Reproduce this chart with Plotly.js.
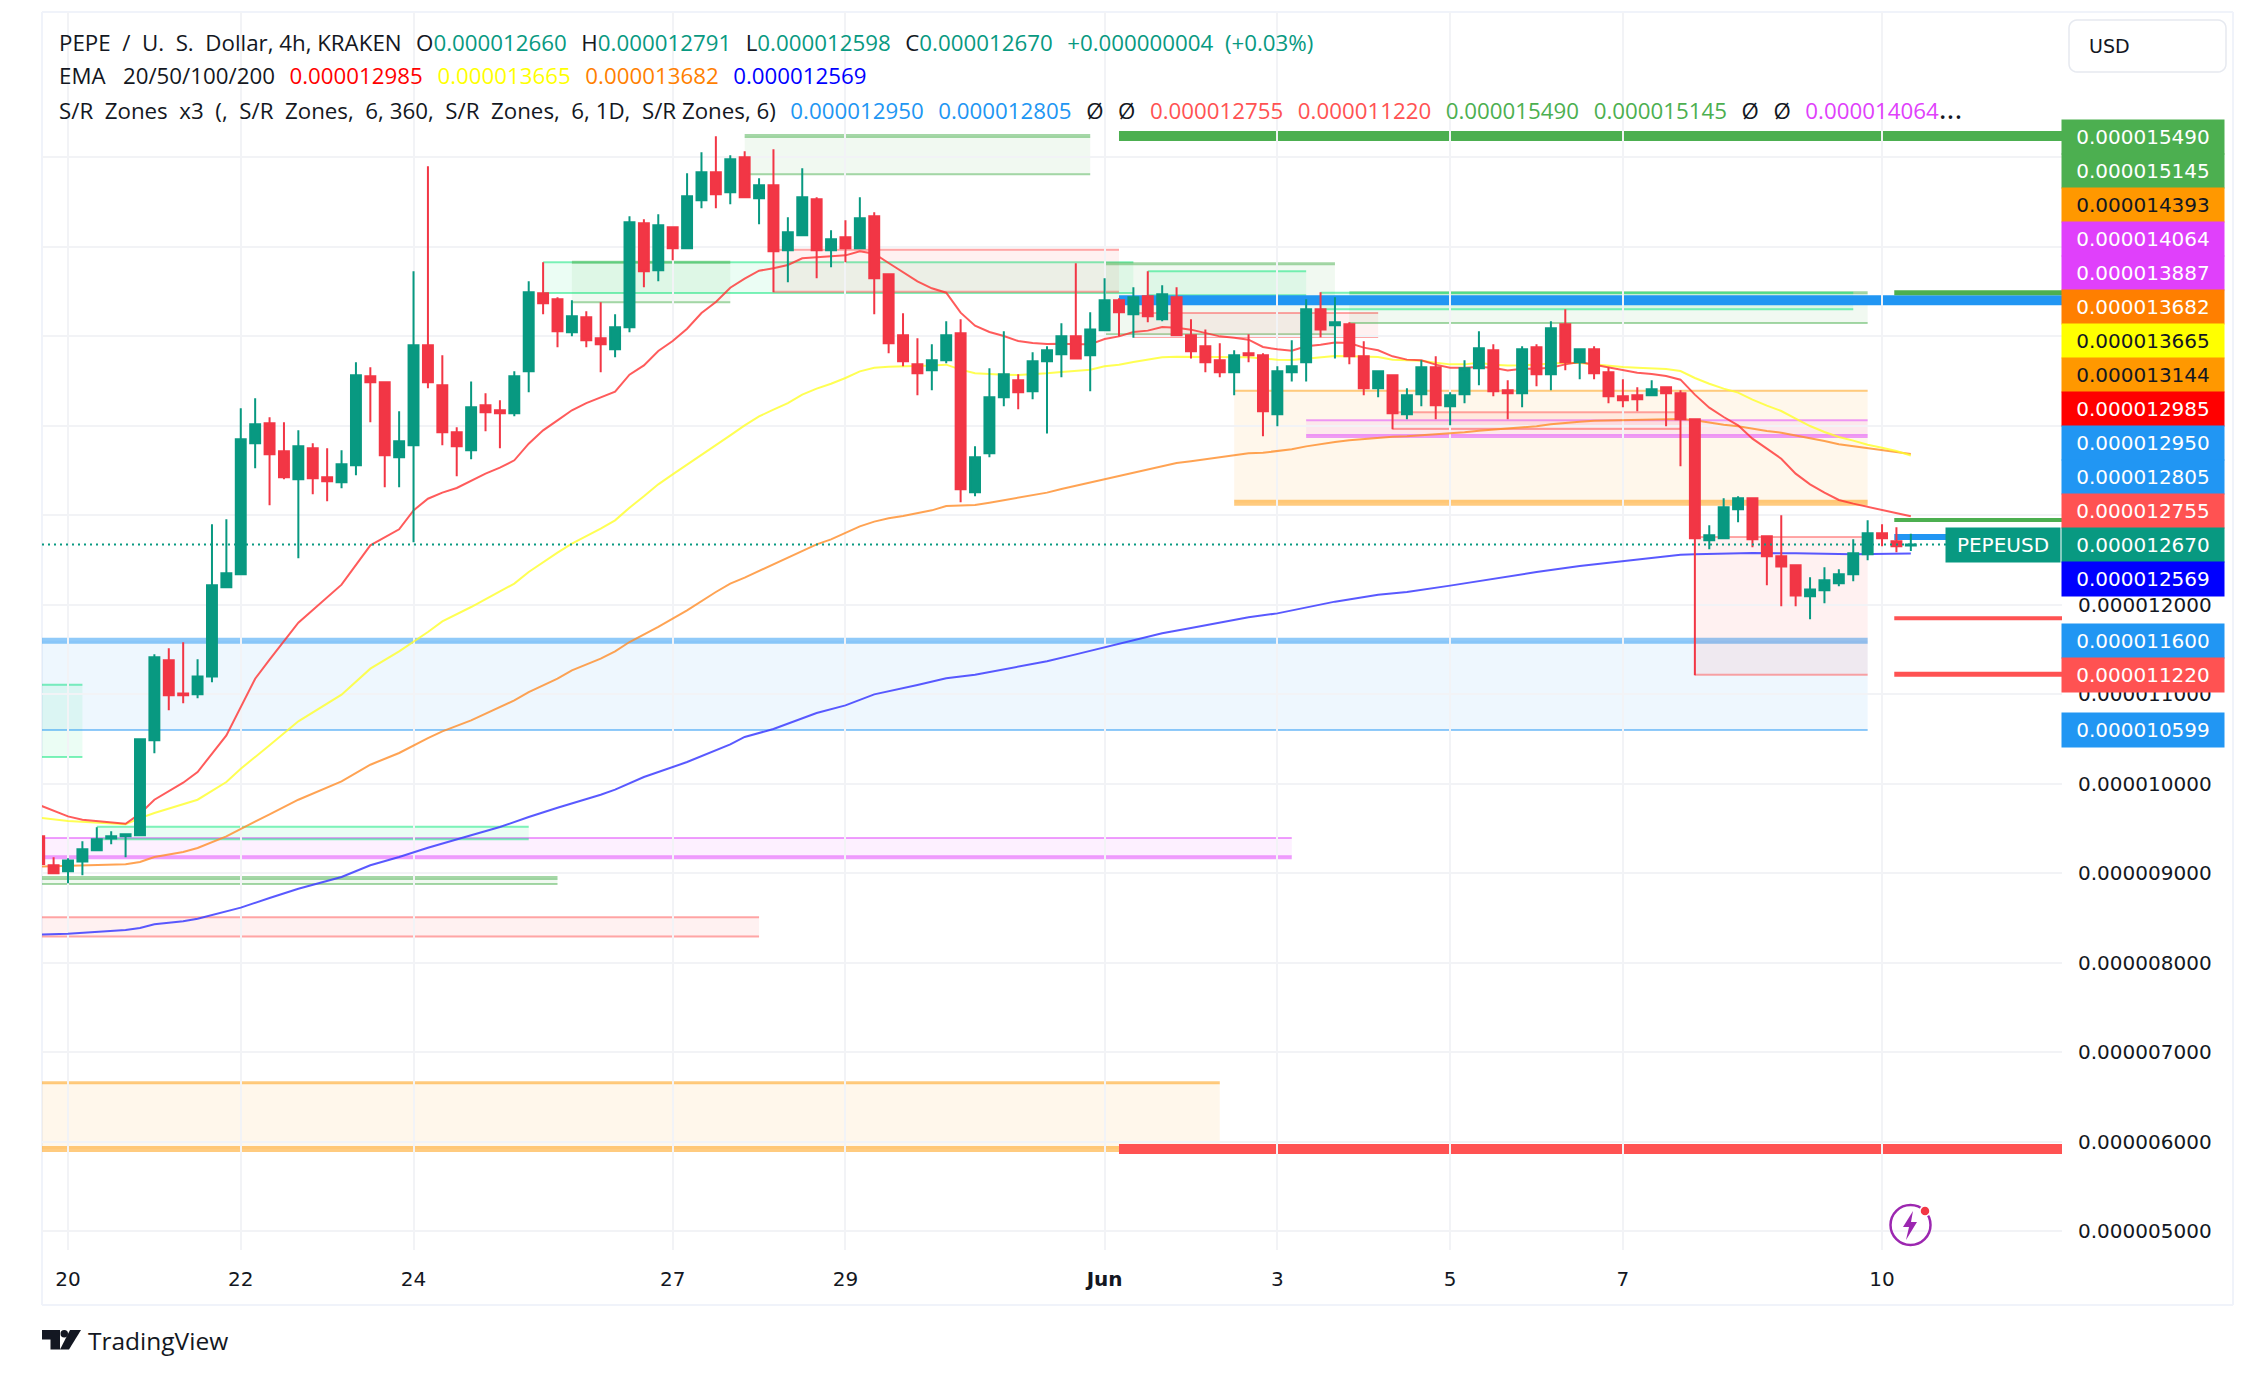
<!DOCTYPE html>
<html><head><meta charset="utf-8">
<script src="https://cdn.plot.ly/plotly-3.0.1.min.js"></script>
<style>html,body{margin:0;padding:0;background:#fff}#chart{width:2254px;height:1376px}</style>
</head><body><div id="chart"></div>
<script>
// Prices are in millionths of a US dollar. Bars are 4h candles numbered from 20 May 00:00 = 0.
const firstBar = -2;
const open = [9.41,9.086,9.019,9.13,9.253,9.387,9.41,9.421,10.482,11.376,11.007,10.996,
11.197,12.192,12.337,13.801,14.024,13.711,13.399,13.745,13.421,13.365,
13.555,14.549,14.482,13.644,13.778,14.896,14.449,13.924,13.723,14.225,
14.17,14.136,14.605,15.477,15.41,15.041,15.209,14.974,14.851,15.097,
16.259,15.734,16.214,15.98,16.516,16.829,16.605,16.996,16.538,16.683,
15.957,16.125,16.527,15.957,16.102,15.98,16.337,15.689,15.007,14.683,
14.616,14.728,15.03,13.253,13.689,14.315,14.505,14.382,14.717,14.795,
14.996,14.784,15.063,15.399,15.242,15.443,15.186,15.432,15.007,14.885,
14.728,14.594,14.806,14.784,14.125,14.594,14.706,15.298,15.119,15.13,
14.773,14.415,14.561,14.125,14.348,14.65,14.214,14.348,14.639,14.84,
14.393,14.359,14.873,14.572,15.13,14.706,14.851,14.594,14.326,14.337,
14.337,14.427,14.359,14.069,12.717,12.739,13.063,13.186,12.762,12.538,
12.438,12.091,12.158,12.237,12.337,12.561,12.795,12.706,12.66];
const high = [9.45,9.175,9.164,9.354,9.51,9.466,9.432,10.505,11.443,11.51,11.577,11.387,
12.896,12.952,14.192,14.304,14.091,14.035,13.946,13.801,13.745,13.723,
14.706,14.65,14.493,14.158,15.723,16.896,14.784,13.98,14.493,14.359,
14.281,14.605,15.611,15.823,15.432,15.399,15.276,15.376,15.242,16.337,
16.304,16.359,16.214,16.818,17.052,17.231,17.019,17.063,16.762,17.086,
16.326,16.873,16.549,16.181,16.292,16.549,16.382,15.689,15.253,14.974,
14.907,15.164,15.186,13.767,14.639,15.052,14.572,14.818,14.885,15.142,
15.812,15.264,15.644,15.421,15.544,15.723,15.566,15.544,15.186,15.074,
14.918,14.84,15.019,14.806,14.661,14.952,15.41,15.488,15.432,15.153,
14.94,14.616,14.561,14.415,14.728,14.773,14.371,14.728,15.052,14.907,
14.505,14.885,14.907,15.164,15.298,14.862,14.885,14.65,14.516,14.427,
14.505,14.438,14.393,14.069,12.885,13.186,13.209,13.186,12.773,12.996,
12.438,12.304,12.415,12.393,12.728,12.94,12.896,12.862,12.791];
const low = [9.06,8.985,8.885,8.974,9.253,9.32,9.175,9.421,10.337,10.818,10.896,10.952,
11.13,12.192,12.337,13.521,13.108,13.399,12.516,13.231,13.153,13.298,
13.443,14.035,13.309,13.309,12.695,14.415,13.778,13.432,13.622,13.935,
13.745,14.102,14.371,15.242,14.873,14.996,14.873,14.594,14.762,15.041,
15.544,15.611,15.845,15.98,16.426,16.426,16.471,16.538,16.248,15.488,
15.6,16.125,15.644,15.767,15.823,15.98,15.242,14.806,14.661,14.337,
14.393,14.695,13.142,13.209,13.644,14.214,14.181,14.292,13.912,14.538,
14.739,14.382,15.063,14.996,14.981,15.153,15.164,15.007,14.75,14.594,
14.538,14.337,14.706,13.879,13.991,14.493,14.493,14.985,14.75,14.683,
14.337,14.315,13.957,14.069,14.214,14.069,14.002,14.248,14.449,14.326,
14.069,14.203,14.438,14.393,14.616,14.516,14.516,14.248,14.203,14.158,
14.337,13.991,13.544,11.209,12.616,12.739,12.918,12.639,12.214,11.98,
11.98,11.834,12.013,12.203,12.259,12.494,12.65,12.583,12.598];
const close = [9.1,8.996,9.141,9.265,9.376,9.41,9.432,10.494,11.41,10.985,10.985,11.197,
12.214,12.35,13.845,14.013,13.678,13.421,13.767,13.41,13.376,13.566,
14.561,14.482,13.667,13.823,14.896,14.482,13.924,13.767,14.203,14.147,
14.136,14.549,15.488,15.365,15.052,15.22,14.952,14.907,15.097,16.27,
15.723,16.237,15.98,16.561,16.829,16.583,16.974,16.549,16.683,15.946,
16.158,16.549,15.957,16.08,15.98,16.315,15.644,14.918,14.717,14.583,
14.728,15.007,13.287,13.644,14.315,14.572,14.371,14.717,14.84,14.996,
14.75,15.074,15.399,15.264,15.432,15.22,15.466,15.007,14.829,14.706,
14.594,14.784,14.784,14.158,14.605,14.661,15.298,15.074,15.153,14.773,
14.415,14.605,14.136,14.337,14.65,14.225,14.337,14.639,14.862,14.382,
14.359,14.851,14.572,15.086,14.706,14.851,14.583,14.326,14.281,14.292,
14.404,14.359,14.069,12.739,12.773,13.086,13.186,12.728,12.538,12.426,
12.102,12.169,12.27,12.337,12.572,12.795,12.739,12.65,12.67];

const ema20Bars = [-2,0,1,4,5,6,8,9,11,12,13,14,16,19,21,23,24,25,26,27,29,30,31,32,33,34,35,36,37,38,39,40,41,42,43,44,45,46,47,48,49,50,51,52,53,54,55,56,57,58,59,60,61,62,63,64,65,66,67,68,69,70,71,72,73,74,75,76,77,78,79,80,81,82,83,84,85,86,87,88,89,90,91,92,93,94,95,96,97,98,99,100,101,102,103,104,105,106,107,108,109,110,111,112,113,114,115,116,117,118,119,120,121,122,123,124,125,126,127,128];
const ema20 = [9.76,9.633,9.596,9.551,9.663,9.819,10.009,10.128,10.538,10.855,11.171,11.384,11.797,12.222,12.661,12.84,13.052,13.182,13.25,13.302,13.462,13.529,13.611,13.797,13.946,14.058,14.17,14.251,14.318,14.378,14.568,14.672,14.832,14.944,15.082,15.257,15.38,15.54,15.641,15.73,15.756,15.793,15.868,15.879,15.89,15.901,15.946,15.92,15.816,15.715,15.611,15.533,15.484,15.261,15.115,15.045,15,14.944,14.922,14.911,14.914,14.907,14.907,14.967,14.996,15.045,15.06,15.101,15.093,15.071,15.037,14.996,14.981,14.959,14.877,14.851,14.836,14.885,14.903,14.926,14.922,14.87,14.84,14.773,14.736,14.728,14.68,14.646,14.646,14.654,14.646,14.616,14.635,14.635,14.646,14.683,14.709,14.68,14.646,14.616,14.59,14.575,14.553,14.512,14.345,14.199,14.095,14.002,13.853,13.741,13.629,13.462,13.343,13.25,13.168,13.127,13.093,13.06,13.019,12.985];

const ema50Bars = [-2,0,4,5,6,9,11,12,14,16,19,21,23,25,26,28,30,31,32,33,34,35,36,37,38,39,40,41,42,43,44,45,46,47,48,49,50,51,52,53,54,55,56,57,58,59,60,61,62,63,64,65,66,67,68,69,70,71,72,73,74,75,76,77,78,79,80,81,82,83,84,85,86,87,88,89,90,91,92,93,94,95,96,97,98,99,100,101,102,103,104,105,106,107,108,109,110,111,112,113,114,115,116,117,118,119,120,121,122,123,124,125,126,127,128];
const ema50 = [9.618,9.581,9.544,9.614,9.67,9.819,10.017,10.166,10.427,10.695,10.993,11.283,11.477,11.693,11.812,11.972,12.147,12.233,12.363,12.475,12.579,12.68,12.762,12.847,12.94,13.082,13.209,13.343,13.454,13.562,13.667,13.778,13.89,14.002,14.102,14.177,14.251,14.345,14.412,14.467,14.531,14.605,14.646,14.657,14.661,14.661,14.669,14.68,14.624,14.583,14.572,14.568,14.564,14.572,14.583,14.598,14.609,14.624,14.661,14.68,14.709,14.732,14.762,14.769,14.769,14.765,14.765,14.765,14.762,14.75,14.736,14.732,14.747,14.765,14.777,14.773,14.765,14.765,14.736,14.728,14.724,14.702,14.683,14.683,14.702,14.68,14.669,14.672,14.68,14.691,14.702,14.698,14.683,14.661,14.654,14.646,14.639,14.631,14.609,14.531,14.467,14.412,14.367,14.289,14.222,14.162,14.076,13.994,13.927,13.871,13.831,13.786,13.752,13.715,13.665];

const ema100Bars = [-2,0,4,5,6,8,9,11,12,14,16,19,21,23,25,26,28,30,31,32,34,35,37,38,39,41,43,45,46,47,48,49,50,51,52,53,54,55,56,57,58,59,60,61,62,63,64,65,66,67,68,69,70,71,72,73,74,75,76,77,78,79,80,81,82,83,84,85,86,87,88,89,90,91,92,93,94,95,96,97,98,99,100,101,102,103,104,105,106,107,108,109,110,111,112,113,114,115,116,117,118,119,120,121,122,123,124,125,126,127,128];
const ema100 = [9.071,9.078,9.097,9.123,9.179,9.235,9.279,9.41,9.495,9.656,9.819,10.024,10.21,10.341,10.508,10.583,10.706,10.855,10.929,11.022,11.171,11.264,11.395,11.477,11.581,11.749,11.935,12.14,12.233,12.3,12.374,12.449,12.523,12.605,12.672,12.728,12.799,12.873,12.926,12.963,12.989,13.019,13.052,13.101,13.104,13.112,13.138,13.164,13.19,13.22,13.25,13.291,13.328,13.361,13.395,13.432,13.473,13.514,13.551,13.581,13.6,13.622,13.641,13.663,13.689,13.696,13.715,13.734,13.767,13.793,13.816,13.834,13.849,13.864,13.875,13.879,13.89,13.898,13.909,13.924,13.942,13.953,13.961,13.976,13.991,14.013,14.032,14.043,14.054,14.058,14.061,14.069,14.073,14.076,14.073,14.058,14.032,14.009,13.991,13.961,13.939,13.92,13.89,13.86,13.827,13.79,13.767,13.745,13.723,13.7,13.682];

const ema200Bars = [-2,0,4,5,6,8,9,11,12,14,16,19,21,23,25,28,30,32,34,37,38,40,43,46,47,49,52,54,56,59,61,63,66,68,70,72,74,76,78,80,82,84,86,88,91,93,96,98,100,102,105,108,110,112,113,117,120,124,128];
const ema200 = [8.311,8.322,8.363,8.385,8.427,8.46,8.49,8.575,8.613,8.721,8.825,8.955,9.086,9.179,9.283,9.421,9.514,9.626,9.73,9.875,9.931,10.073,10.24,10.438,10.52,10.609,10.788,10.873,10.996,11.1,11.175,11.216,11.302,11.365,11.443,11.522,11.596,11.678,11.738,11.797,11.857,11.901,11.968,12.032,12.11,12.14,12.211,12.263,12.307,12.363,12.43,12.486,12.52,12.557,12.561,12.575,12.572,12.561,12.569];

const dayTickBars = [0,12,24,42,54,72,84,96,108,126];
const dayTickLabels = ['20','22','24','27','29','<b>Jun</b>','3','5','7','10'];
const priceTicks = [5,6,7,8,9,10,11,12,13,14,15,16,17];
const priceTickLabels = ['0.000005000','0.000006000','0.000007000','0.000008000','0.000009000','0.000010000','0.000011000','0.000012000','','','','',''];

const zoneStart  = [-2,-2,-2,-2,-2,-2,2,33,35,47,49,72,75,74,89,87,81,86,92,113];
const zoneEnd    = [1,125,80,85,34,48,32,74,46,71,73,88,86,91,125,124,125,125,112,125];
const zoneTop    = [11.104,11.596,6.657,9.391,8.944,8.505,9.518,15.823,15.823,17.235,15.965,15.808,15.723,15.257,15.484,15.484,14.389,14.058,14.147,12.755];
const zoneBottom = [10.296,10.598,5.916,9.175,8.877,8.292,9.376,15.48,15.376,16.806,15.495,15.019,15.455,14.989,15.145,15.298,13.138,13.883,13.961,11.216];
const zoneKind   = ['mint','blue','amber','violet','green','red','mint','mint','green','green','red','green','mint','red','green','mint','amber','violet','red','red'];
const levelStart = [73,73,73,126.85,126.85,126.85,126.85,126.85];
const levelEnd   = [138.5,138.5,138.5,138.5,138.5,130.8,138.5,138.5];
const levelPrice = [17.235,15.399,5.916,15.484,12.944,12.754,11.847,11.22];
const levelKind  = ['green','blue','redline','green','green','blue','redline','redline'];
const lastPrice = 12.67;

const tagLabels = ['0.000015490','0.000015145','0.000014393','0.000014064','0.000013887','0.000013682','0.000013665','0.000013144','0.000012985','0.000012950','0.000012805','0.000012755','0.000012670','0.000012569','0.000011600','0.000011220','0.000010599'];
const tagFill = ['#4CAF50','#4CAF50','#FF9800','#E040FB','#E040FB','#FF7F00','#FFFF00','#FF9800','#FF0000','#2196F3','#2196F3','#FF5252','#089981','#0000FF','#2196F3','#FF5252','#2196F3'];
const tagInk  = ['#fff','#fff','#131722','#fff','#fff','#fff','#131722','#131722','#fff','#fff','#fff','#fff','#fff','#fff','#fff','#fff','#fff'];

// ---------- styles and layout constants ----------
const W=2254,H=1376,L=42,R=2062,T=12,B=1250;
const px=x=>(x-L)/(R-L), py=y=>1-(y-T)/(B-T);
const kinds={mint:'0,230,118',blue:'33,150,243',amber:'255,152,0',violet:'224,64,251',green:'76,175,80',red:'255,82,82'};
const zoneTopW=[2,6,3,2,4,2,2,2,3,4,2,3,2,2,3,2,2,2,2,2];
const zoneBotW=[2,2,6,4,2,2,2,2,2,2,2,2,2,2,2,2,6,4,2,2];
const levelW=[10,10,10,5,4,6,4,5];
const levelColor={green:'#4CAF50',blue:'#2196F3',redline:'#FF5252'};
const tagY=[137,171,205,239,273,307,341,375,409,443,477,511,545,579,641,675,730];
const xMin=-1.806,xMax=138.5;

const shapes=[];
zoneStart.forEach((s,k)=>{
  const c=kinds[zoneKind[k]], x0=Math.max(s,xMin), x1=zoneEnd[k];
  shapes.push({type:'rect',xref:'x',yref:'y',x0,x1,y0:zoneBottom[k],y1:zoneTop[k],fillcolor:`rgba(${c},0.08)`,line:{width:0},layer:'below'});
  shapes.push({type:'line',xref:'x',yref:'y',x0,x1,y0:zoneTop[k],y1:zoneTop[k],line:{color:`rgba(${c},0.5)`,width:zoneTopW[k]},layer:'below'});
  shapes.push({type:'line',xref:'x',yref:'y',x0,x1,y0:zoneBottom[k],y1:zoneBottom[k],line:{color:`rgba(${c},0.5)`,width:zoneBotW[k]},layer:'below'});
});
levelStart.forEach((s,k)=>{
  shapes.push({type:'line',xref:'x',yref:'y',x0:s,x1:levelEnd[k],y0:levelPrice[k],y1:levelPrice[k],line:{color:levelColor[levelKind[k]],width:levelW[k]},layer:'below'});
});
shapes.push({type:'line',xref:'x',yref:'y',x0:xMin,x1:xMax,y0:lastPrice,y1:lastPrice,line:{color:'#089981',width:2,dash:'2px,4px'},layer:'above'});
// frame
const frame=(x0,y0,x1,y1)=>({type:'line',xref:'paper',yref:'paper',x0:px(x0),x1:px(x1),y0:py(y0),y1:py(y1),line:{color:'#f0f3fa',width:2},layer:'below'});
shapes.push(frame(42,12,2233,12),frame(42,12,42,1305),frame(2233,12,2233,1305),frame(42,1305,2233,1305));
const poly=(pts)=>'M'+pts.map(p=>px(p[0])+' '+py(p[1])).join(' L')+' Z';
// USD box
const rr=(x0,y0,x1,y1,r)=>{const a=[];for(const [cx,cy,st] of [[x1-r,y0+r,-90],[x1-r,y1-r,0],[x0+r,y1-r,90],[x0+r,y0+r,180]]){for(let d=0;d<=90;d+=15){const t=(st+d)*Math.PI/180;a.push([cx+r*Math.cos(t),cy+r*Math.sin(t)]);}}return poly(a);};
shapes.push({type:'path',xref:'paper',yref:'paper',path:rr(2069,20,2226,72,8),line:{color:'#e6e9f0',width:1.5},fillcolor:'#fff'});
// TradingView mark
shapes.push({type:'path',xref:'paper',yref:'paper',path:poly([[42,1330],[60,1330],[60,1349.5],[50.5,1349.5],[50.5,1339.5],[42,1339.5]]),fillcolor:'#131722',line:{width:0}});
shapes.push({type:'circle',xref:'paper',yref:'paper',x0:px(60.5),x1:px(68),y0:py(1330),y1:py(1337.5),fillcolor:'#131722',line:{width:0}});
shapes.push({type:'path',xref:'paper',yref:'paper',path:poly([[70,1330],[81,1330],[69,1349.5],[60,1349.5]]),fillcolor:'#131722',line:{width:0}});
// news badge
shapes.push({type:'circle',xref:'paper',yref:'paper',x0:px(1890.5),x1:px(1930.5),y0:py(1205),y1:py(1245),fillcolor:'rgba(255,255,255,0)',line:{color:'#9C27B0',width:2.5}});
shapes.push({type:'path',xref:'paper',yref:'paper',path:poly([[1913,1211],[1903,1227],[1909,1227],[1906,1240],[1917,1222],[1911,1222]]),fillcolor:'#9C27B0',line:{width:0}});
shapes.push({type:'circle',xref:'paper',yref:'paper',x0:px(1920),x1:px(1930),y0:py(1206),y1:py(1216),fillcolor:'#F23645',line:{color:'#fff',width:1.5}});

const nb=n=>'\u00A0'.repeat(n);
const sp=(c,t)=>`<span style="color:${c}">${t}</span>`;
const gap='<span style="font-size:28px">'+nb(2)+'</span>';
const ink='#131722',up='#089981',blu='#2196F3',rd='#FF5252',grn='#4CAF50',vio='#E040FB';
const legendFont={family:'"Open Sans", sans-serif',size:22.3,color:ink};
const line1='PEPE'+nb(2)+'/'+nb(2)+'U.'+nb(2)+'S.'+nb(2)+'Dollar,'+nb(1)+'4h,'+nb(1)+'KRAKEN'+gap+'O'+sp(up,'0.000012660')+gap+'H'+sp(up,'0.000012791')+gap+'L'+sp(up,'0.000012598')+gap+'C'+sp(up,'0.000012670')+gap+sp(up,'+0.000000004'+nb(2)+'(+0.03%)');
const line2='EMA'+nb(3)+'20/50/100/200'+gap+sp('#FF0000','0.000012985')+gap+sp('#FFFF00','0.000013665')+gap+sp('#FF7F00','0.000013682')+gap+sp('#0000FF','0.000012569');
const line3='S/R'+nb(2)+'Zones'+nb(2)+'x3'+nb(2)+'(,'+nb(2)+'S/R'+nb(2)+'Zones,'+nb(2)+'6,'+nb(1)+'360,'+nb(2)+'S/R'+nb(2)+'Zones,'+nb(2)+'6,'+nb(1)+'1D,'+nb(2)+'S/R'+nb(1)+'Zones,'+nb(1)+'6)'+gap+sp(blu,'0.000012950')+gap+sp(blu,'0.000012805')+gap+'Ø'+gap+'Ø'+gap+sp(rd,'0.000012755')+gap+sp(rd,'0.000011220')+gap+sp(grn,'0.000015490')+gap+sp(grn,'0.000015145')+gap+'Ø'+gap+'Ø'+gap+sp(vio,'0.000014064')+'<span style="font-size:30px">...</span>';

const text=(t,x,y,font,extra)=>Object.assign({text:t,xref:'paper',yref:'paper',x:px(x),y:py(y),xanchor:'left',yanchor:'middle',align:'left',showarrow:false,font,borderpad:0},extra||{});
const annotations=[
  text(line1,58,40,legendFont),text(line2,58,73,legendFont),text(line3,58,108,legendFont),
  text('USD',2088,46,{family:'"DejaVu Sans", sans-serif',size:19,color:ink}),
  text('TradingView',87,1340,{family:'"Open Sans", sans-serif',size:24.5,color:'#131722'}),
];
tagLabels.forEach((t,k)=>annotations.push(text(t,2061,tagY[k],{family:'"DejaVu Sans", sans-serif',size:20,color:tagInk[k]},{width:162,height:34,align:'center',bgcolor:tagFill[k]})));
annotations.push(text('PEPEUSD',1945,545,{family:'"DejaVu Sans", sans-serif',size:20,color:'#fff'},{width:114,height:34,align:'center',bgcolor:'#089981'}));

const ema=(x,y,c)=>({type:'scatter',mode:'lines',x,y,line:{color:c,width:2},hoverinfo:'skip',showlegend:false,zorder:0});
const bars=open.map((_,k)=>k+firstBar);
const data=[
  ema(ema200Bars,ema200,'rgba(60,60,255,0.85)'),
  ema(ema100Bars,ema100,'rgba(255,140,40,0.8)'),
  ema(ema50Bars,ema50,'rgba(255,255,40,0.8)'),
  ema(ema20Bars,ema20,'rgba(255,50,50,0.8)'),
  {type:'candlestick',x:bars,open,high,low,close,zorder:1,whiskerwidth:0,hoverinfo:'skip',showlegend:false,
   increasing:{line:{color:'#089981',width:2},fillcolor:'#089981'},
   decreasing:{line:{color:'#F23645',width:2},fillcolor:'#F23645'}}
];
const grid='#f2f3f6';
const layout={width:W,height:H,autosize:false,margin:{l:L,r:W-R,t:T,b:H-B,pad:0},paper_bgcolor:'#fff',plot_bgcolor:'#fff',showlegend:false,
  boxgap:0.31,boxgroupgap:0,shapes,annotations,hovermode:false,
  xaxis:{type:'linear',range:[xMin,xMax],tickmode:'array',tickvals:dayTickBars,ticktext:dayTickLabels,showgrid:true,gridcolor:grid,gridwidth:2,zeroline:false,showline:false,
    ticks:'outside',ticklen:11,tickcolor:'rgba(0,0,0,0)',tickfont:{family:'"DejaVu Sans", sans-serif',size:20,color:ink},rangeslider:{visible:false},fixedrange:true},
  yaxis:{type:'linear',side:'right',range:[4.788,18.62],tickmode:'array',tickvals:priceTicks,ticktext:priceTickLabels,showgrid:true,gridcolor:grid,gridwidth:2,zeroline:false,showline:false,
    ticks:'outside',ticklen:11,tickcolor:'rgba(0,0,0,0)',tickfont:{family:'"DejaVu Sans", sans-serif',size:20,color:ink},fixedrange:true}
};
Plotly.newPlot('chart',data,layout,{displayModeBar:false,staticPlot:true});
</script></body></html>
